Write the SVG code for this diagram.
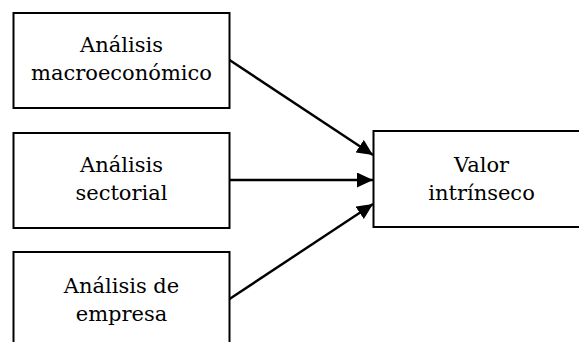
<svg xmlns="http://www.w3.org/2000/svg" width="579" height="342" viewBox="0 0 579 342">
<style>
.box{fill:#fff;stroke:#000;stroke-width:2}
.lbl{font-family:"DejaVu Serif","Liberation Serif",serif;font-size:21px;fill:#000;text-anchor:middle}
.conn{stroke:#000;stroke-width:2.4;fill:none;marker-end:url(#ah)}
</style>
<defs>
<marker id="ah" markerUnits="userSpaceOnUse" markerWidth="17" markerHeight="15" refX="16" refY="7.5" orient="auto">
<path d="M0,0 L16,7.5 L0,15 z" fill="#000"/>
</marker>
</defs>
<rect width="579" height="342" fill="#fff"/>
<g id="macro">
<rect class="box" x="13.5" y="13" width="216" height="95"/>
<text class="lbl" x="121.5" y="52">Análisis</text>
<text class="lbl" x="121.5" y="80">macroeconómico</text>
</g>
<g id="sectorial">
<rect class="box" x="13.5" y="133" width="216" height="95"/>
<text class="lbl" x="121.5" y="172">Análisis</text>
<text class="lbl" x="121.5" y="200">sectorial</text>
</g>
<g id="empresa">
<rect class="box" x="13.5" y="252" width="216" height="100"/>
<text class="lbl" x="121.5" y="293">Análisis de</text>
<text class="lbl" x="121.5" y="321">empresa</text>
</g>
<g id="valor">
<rect class="box" x="373.5" y="131" width="220" height="96"/>
<text class="lbl" x="481.5" y="172">Valor</text>
<text class="lbl" x="481.5" y="200">intrínseco</text>
</g>
<g id="connectors">
<line class="conn" x1="229.5" y1="60" x2="373" y2="155"/>
<line class="conn" x1="229.5" y1="180" x2="373" y2="180"/>
<line class="conn" x1="229.5" y1="299" x2="373" y2="204"/>
</g>
</svg>
